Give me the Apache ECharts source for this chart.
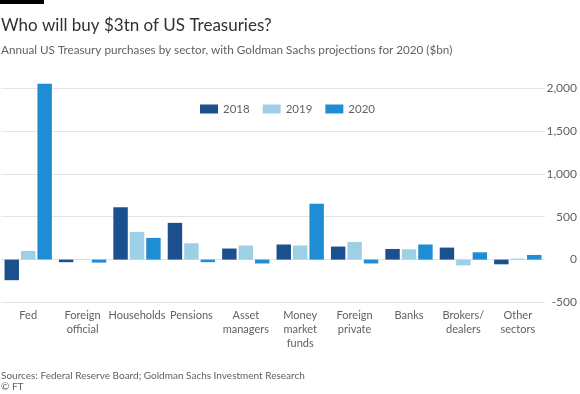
<!DOCTYPE html>
<html>
<head>
<meta charset="utf-8">
<script src="https://cdn.jsdelivr.net/npm/echarts@6/dist/echarts.min.js"></script>
<style>
html,body{margin:0;padding:0;background:#fff;}
#chart{width:580px;height:394px;}
</style>
</head>
<body>
<div id="chart"></div>
<script>
var categories = ["Fed", "Foreign\nofficial", "Households", "Pensions", "Asset\nmanagers", "Money\nmarket\nfunds", "Foreign\nprivate", "Banks", "Brokers/\ndealers", "Other\nsectors"];
var seriesNames = ["2018", "2019", "2020"];
var values2018 = [-240, -30, 610, 428, 129, 176, 152, 124, 140, -55];
var values2019 = [100, -5, 323, 190, 164, 164, 206, 120, -67, 12];
var values2020 = [2050, -35, 253, -30, -45, 651, -45, 176, 85, 54];
var yTicks = [-500, 0, 500, 1000, 1500, 2000];

var colors = ["#1c4f8e", "#9dcfe6", "#1f8dd3"];
var FONT = "Lato";

var chart = echarts.init(document.getElementById('chart'), null, {renderer: 'canvas'});
var option = {
  backgroundColor: '#ffffff',
  animation: false,
  textStyle: {fontFamily: FONT},
  title: [
    {text: 'Who will buy $3tn of US Treasuries?', left: 1, top: 17, padding: 0,
     textStyle: {fontFamily: FONT, fontSize: 17, fontWeight: 'normal', color: '#33302e'}},
    {text: 'Annual US Treasury purchases by sector, with Goldman Sachs projections for 2020 ($bn)', left: 1, top: 44, padding: 0,
     textStyle: {fontFamily: FONT, fontSize: 11.7, fontWeight: 'normal', color: '#66605c'}},
    {text: 'Sources: Federal Reserve Board; Goldman Sachs Investment Research', left: 1, top: 371, padding: 0,
     textStyle: {fontFamily: FONT, fontSize: 10, fontWeight: 'normal', color: '#66605c'}},
    {text: '\u00a9 FT', left: 1, top: 382, padding: 0,
     textStyle: {fontFamily: FONT, fontSize: 10, fontWeight: 'normal', color: '#66605c'}}
  ],
  graphic: [
    {type: 'rect', shape: {x: 0, y: 0, width: 44, height: 4}, style: {fill: '#000'}}
  ],
  legend: {
    data: seriesNames, left: 195, top: 98, icon: 'rect', itemWidth: 18, itemHeight: 9, itemGap: 13,
    textStyle: {fontFamily: FONT, fontSize: 11.5, color: '#66605c'}
  },
  grid: {left: 1, right: 35, top: 88, bottom: 91.5, containLabel: false},
  xAxis: {
    type: 'category', data: categories,
    axisLine: {show: false}, axisTick: {show: false},
    axisLabel: {interval: 0, margin: 6, fontFamily: FONT, fontSize: 11, lineHeight: 14, color: '#66605c'}
  },
  yAxis: {
    type: 'value', position: 'right', min: yTicks[0], max: yTicks[yTicks.length - 1], interval: 500,
    axisLine: {show: false}, axisTick: {show: false},
    splitLine: {lineStyle: {color: '#e4e4e4', width: 1}},
    axisLabel: {align: 'right', margin: 32, fontFamily: FONT, fontSize: 12, color: '#66605c',
      formatter: function (v) { return v.toLocaleString('en-US'); }}
  },
  series: [
    {name: seriesNames[0], type: 'bar', data: values2018, clip: false, itemStyle: {color: colors[0]}, barGap: '14%', barCategoryGap: '13%'},
    {name: seriesNames[1], type: 'bar', data: values2019, clip: false, itemStyle: {color: colors[1]}, barGap: '14%', barCategoryGap: '13%'},
    {name: seriesNames[2], type: 'bar', data: values2020, clip: false, itemStyle: {color: colors[2]}, barGap: '14%', barCategoryGap: '13%'}
  ]
};
chart.setOption(option);
</script>
</body>
</html>
